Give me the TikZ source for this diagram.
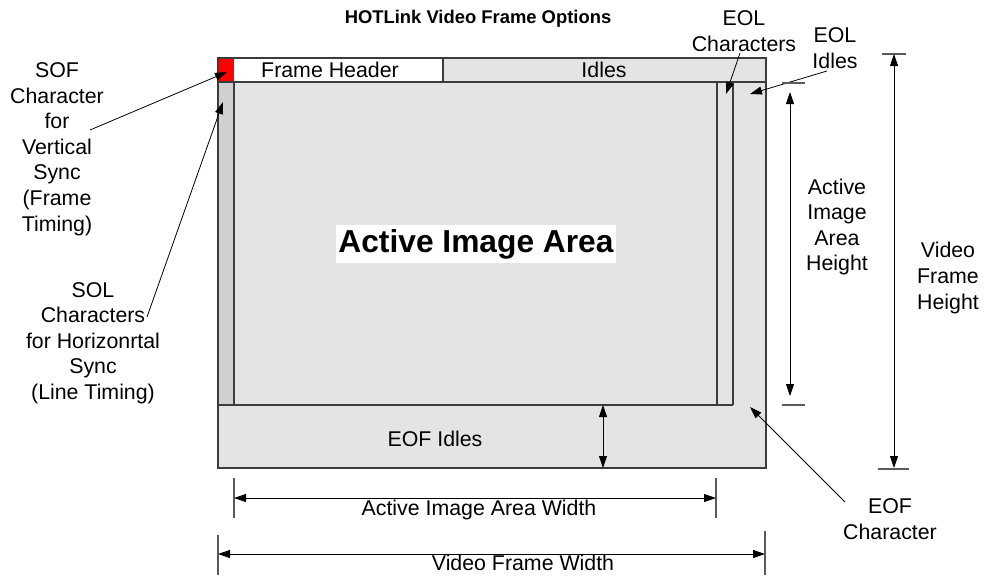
\documentclass[tikz,border=0pt]{standalone}
\usepackage{fontspec}
\setmainfont{Liberation Sans}
\setsansfont{Liberation Sans}
\usetikzlibrary{arrows.meta, positioning, calc}
\definecolor{FrameGray}{HTML}{E4E4E4}
\definecolor{SolGray}{HTML}{D0D0D0}
\definecolor{EdgeGray}{HTML}{3C3C3C}
\definecolor{TickGray}{HTML}{5A5A5A}
\definecolor{SofRed}{HTML}{FF0000}

\begin{document}
\begin{tikzpicture}[x=0.75pt, y=-0.75pt, font=\sffamily,
    lbl/.style={font=\sffamily\fontsize{16}{19.2}\selectfont, align=center, inner sep=0pt},
    ptr/.style={-{Triangle[length=9pt, width=6pt]}, line width=0.6pt},
    dim/.style={{Triangle[length=9pt, width=6pt]}-{Triangle[length=9pt, width=6pt]}, line width=0.6pt},
    edge/.style={EdgeGray, line width=0.9pt},
    tickline/.style={TickGray, line width=0.9pt}]

\useasboundingbox (0,0) rectangle (984,575);

% frame areas
\fill[FrameGray] (218,58) rectangle (766,468);
\fill[SofRed] (218,58) rectangle (234,82);
\fill[white] (234,58) rectangle (443,82);
\fill[SolGray] (218,82) rectangle (234,405);
\draw[edge] (218,82) -- (766,82);
\draw[edge] (443,58) -- (443,82);
\draw[edge] (234,82) -- (234,405);
\draw[edge] (717,82) -- (717,405);
\draw[edge] (733,82) -- (733,405);
\draw[edge] (218,405) -- (733,405);
\draw[edge] (218,58) rectangle (766,468);

% texts
\node[font=\sffamily\bfseries\fontsize{13.8}{16}\selectfont, inner sep=0pt] (title) at (478,19) {HOTLink Video Frame Options};
\node[lbl] (hdr) at (330,70) {Frame Header};
\node[lbl] (idl) at (604,70) {Idles};
\node[font=\sffamily\bfseries\fontsize{23.8}{28}\selectfont, fill=white, inner xsep=2pt,
    minimum height=29pt, inner ysep=0pt] (aia) at (476,244) {Active Image Area};
\node[lbl] (eofi) at (435,439) {EOF Idles};
\node[lbl] (sof) at (57,149) {SOF\\Character\\for\\Vertical\\Sync\\(Frame\\Timing)};
\node[lbl] (sol) at (93,343) {SOL\\Characters\\for Horizonrtal\\Sync\\(Line Timing)};
\node[lbl] (eolc) at (744,31) {EOL\\Characters};
\node[lbl] (eoli) at (835,48) {EOL\\Idles};
\node[lbl] (aih) at (837,227) {Active\\Image\\Area\\Height};
\node[lbl] (vfh) at (948,278) {Video\\Frame\\Height};
\node[lbl] (eofc) at (890,519) {EOF\\Character};
\node[lbl] (aiw) at (479,510) {Active Image Area Width};
\node[lbl] (vfw) at (523,563) {Video Frame Width};

% pointers
\coordinate (sofT) at (90,130);   \coordinate (sofH) at (227,72);
\coordinate (solT) at (147,317);  \coordinate (solH) at (223,102);
\coordinate (eolcT) at (740,53);  \coordinate (eolcH) at (726,94);
\coordinate (eoliT) at (827,71);  \coordinate (eoliH) at (750,94);
\coordinate (eofcT) at (845,502); \coordinate (eofcH) at (750,407);
\foreach \p in {sof, sol, eolc, eoli, eofc}
    \draw[ptr] (\p T) -- (\p H);

% height dimensions
\draw[tickline] (782,83) -- (805,83);
\draw[tickline] (782,405) -- (805,405);
\coordinate (aihA) at (790,92);  \coordinate (aihB) at (790,396);
\draw[dim] (aihA) -- (aihB);
\draw[tickline] (882,54) -- (906,54);
\draw[tickline] (878,469) -- (909,469);
\coordinate (vfhA) at (894,54);  \coordinate (vfhB) at (894,468);
\draw[dim] (vfhA) -- (vfhB);
\coordinate (eofA) at (603,405); \coordinate (eofB) at (603,468);
\draw[dim] (eofA) -- (eofB);

% width dimensions
\foreach \x in {234,716}
    \draw[tickline] (\x,478) -- (\x,518);
\coordinate (aiwA) at (234,498); \coordinate (aiwB) at (716,498);
\draw[dim] (aiwA) -- (aiwB);
\draw[tickline] (218,535) -- (218,575);
\draw[tickline] (765,531) -- (765,575);
\coordinate (vfwA) at (218,554); \coordinate (vfwB) at (765,554);
\draw[dim] (vfwA) -- (vfwB);

\end{tikzpicture}
\end{document}
